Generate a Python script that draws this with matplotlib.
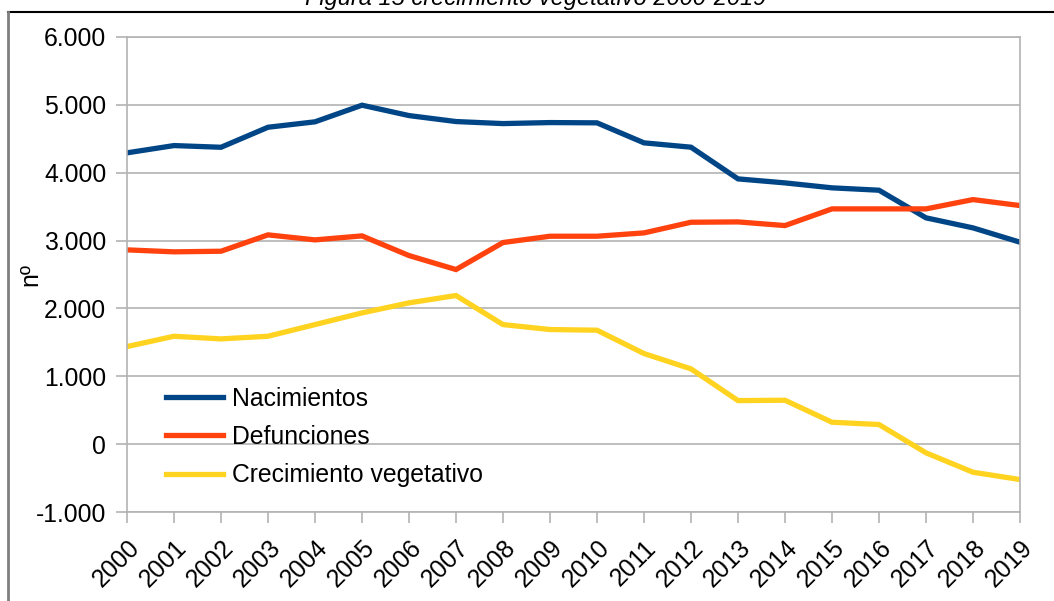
import numpy as np
import matplotlib.pyplot as plt
from matplotlib.lines import Line2D
from matplotlib.ticker import FuncFormatter

# Datos
years = [str(y) for y in range(2000, 2020)]
nacimientos = [4293, 4400, 4375, 4670, 4750, 4995, 4842, 4754, 4724, 4739,
               4735, 4440, 4376, 3909, 3850, 3777, 3742, 3335, 3187, 2976]
defunciones = [2863, 2834, 2843, 3084, 3010, 3069, 2779, 2573, 2971, 3064,
               3064, 3113, 3270, 3275, 3221, 3467, 3467, 3467, 3604, 3516]
crecimiento = [1438, 1590, 1551, 1590, 1762, 1934, 2082, 2190, 1762, 1689,
               1679, 1335, 1109, 642, 647, 323, 289, -128, -414, -522]

series = [('Nacimientos', nacimientos, '#004586'),
          ('Defunciones', defunciones, '#ff420e'),
          ('Crecimiento vegetativo', crecimiento, '#ffd320')]

plt.rcParams['font.family'] = ['Liberation Sans', 'DejaVu Sans']
fs = 17.8

W, H = 1054, 601
fig = plt.figure(figsize=(W / 100, H / 100), dpi=100)
ax = fig.add_axes([127 / W, 1 - 512 / H, (1020 - 127) / W, (512 - 37) / H])

x = np.arange(len(years))
for name, vals, col in series:
    ax.plot(x, vals, color=col, lw=3.8, label=name, solid_joinstyle='miter')

ax.set_xlim(0, len(years) - 1)
ax.set_ylim(-1000, 6000)
ax.set_yticks(np.arange(-1000, 6001, 1000))
ax.yaxis.set_major_formatter(FuncFormatter(lambda v, p: f'{int(v):,}'.replace(',', '.')))
ax.set_xticks(x)
ax.set_xticklabels(years, rotation=45, ha='right', rotation_mode='anchor')

grid_col = '#b3b3b3'
ax.grid(axis='y', color=grid_col, lw=1.2)
ax.set_axisbelow(True)
for s in ax.spines.values():
    s.set_color(grid_col)
    s.set_linewidth(1.2)
ax.tick_params(axis='both', colors=grid_col, labelcolor='black', labelsize=fs,
               length=8, width=1.2)
ax.tick_params(axis='x', pad=9)
ax.tick_params(axis='y', pad=7)

ax.set_ylabel('nº', fontsize=fs, labelpad=-5)

ax.legend(loc='upper left', bbox_to_anchor=(0.033, 0.285), frameon=False,
          fontsize=fs, handlelength=2.3, handletextpad=0.36, labelspacing=0.58,
          borderaxespad=0)

# Titulo cortado en la parte superior
fig.text(0.508, 1 - 5 / H, 'Figura 15 crecimiento vegetativo 2000-2019',
         ha='center', va='baseline', fontsize=17, style='italic')

# Marco exterior
fig.add_artist(Line2D([8 / W, 1], [1 - 12 / H, 1 - 12 / H], color='black', lw=1.5))
fig.add_artist(Line2D([8 / W, 8 / W], [0, 1 - 12 / H], color='#7f7f7f', lw=2))

fig.savefig('out.png', dpi=100)
